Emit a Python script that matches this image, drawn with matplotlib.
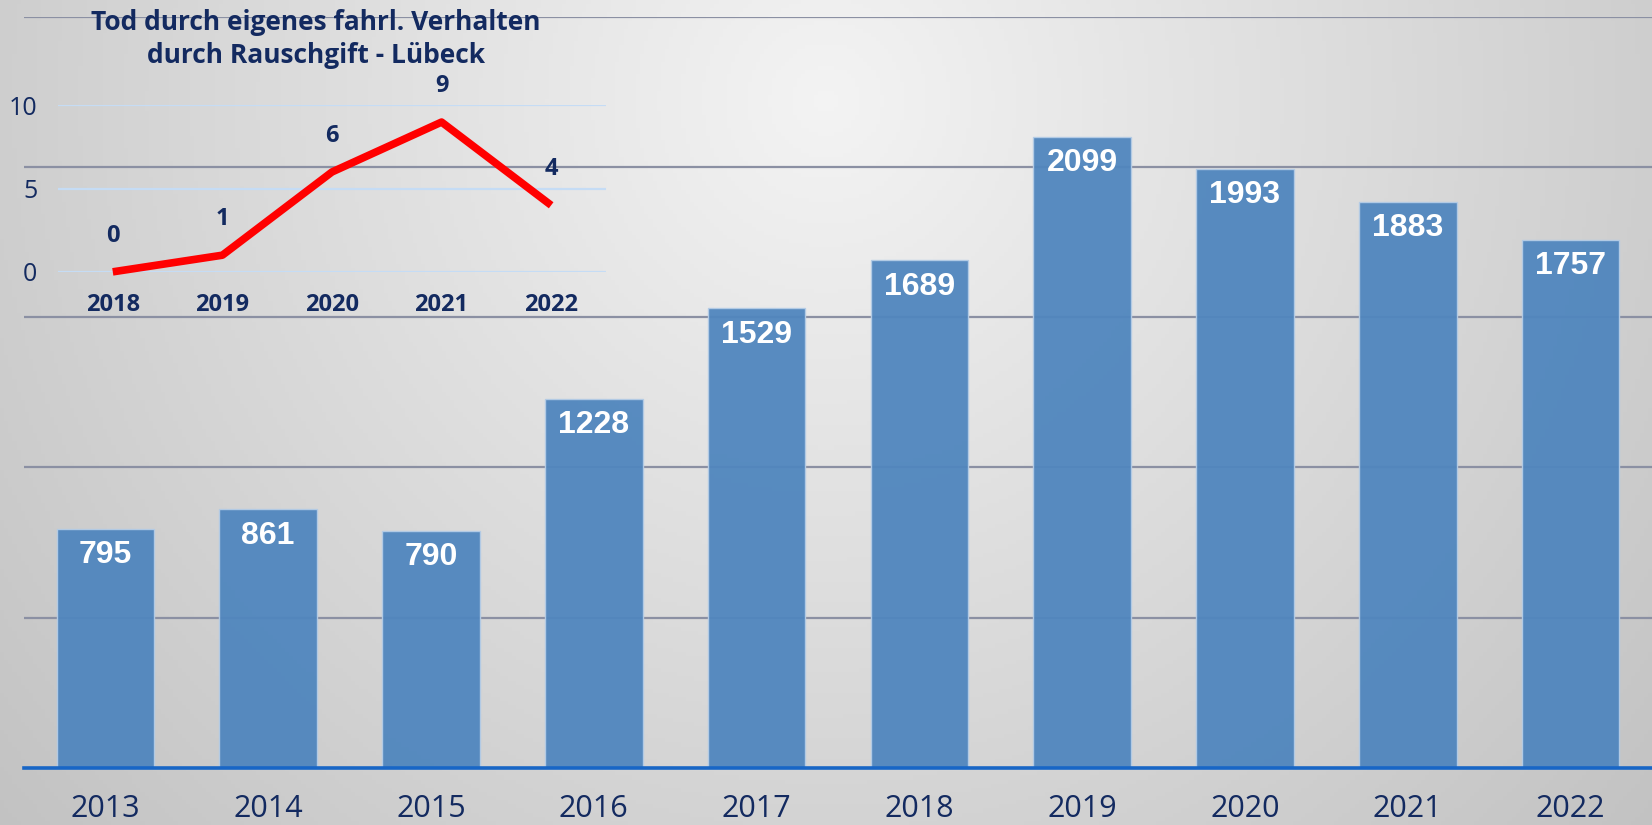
import numpy as np
import matplotlib
matplotlib.use("Agg")
import matplotlib.pyplot as plt

# main chart data
years = ['2013', '2014', '2015', '2016', '2017', '2018', '2019', '2020', '2021', '2022']
cases = [795, 861, 790, 1228, 1529, 1689, 2099, 1993, 1883, 1757]

# inset data
inset_years = ['2018', '2019', '2020', '2021', '2022']
deaths = [0, 1, 6, 9, 4]
inset_title = 'Tod durch eigenes fahrl. Verhalten\ndurch Rauschgift - Lübeck'

navy = '#132a60'
bar_col = '#5086be'

fig = plt.figure(figsize=(16.52, 8.25), dpi=100)

# gray radial background
bg = fig.add_axes([0, 0, 1, 1], zorder=-10)
xx, yy = np.meshgrid(np.linspace(0, 1, 400), np.linspace(0, 1, 200))
d = np.sqrt(((xx - 0.5) / 0.62) ** 2 + ((yy - 0.12) / 1.25) ** 2)
shade = np.clip(0.955 - 0.18 * d, 0.75, 0.96)
bg.imshow(np.dstack([shade, shade, shade]), aspect='auto', extent=[0, 1, 1, 0])
bg.set_axis_off()

# main bars
ax = fig.add_axes([0.0145, 0.069, 0.9855, 0.911])
ax.patch.set_visible(False)
x = np.arange(len(years))
bars = ax.bar(x, cases, width=0.6, color=bar_col, edgecolor='#b4cce6',
              linewidth=1, alpha=0.95, zorder=3)
for xi, v in zip(x, cases):
    ax.annotate(str(v), (xi, v), xytext=(0, -19), textcoords='offset points',
                ha='center', va='center', color='white', fontsize=23,
                fontweight='bold', family='Liberation Sans', zorder=4)
ax.set_xlim(-0.5, len(years) - 0.5)
ax.set_ylim(0, 2500)
ax.set_yticks([500, 1000, 1500, 2000, 2500])
ax.yaxis.grid(True, color='#8b90a3', linewidth=1.6, zorder=1)
ax.set_axisbelow(True)
ax.tick_params(axis='y', left=False, labelleft=False)
ax.set_xticks(x)
ax.set_xticklabels(years, fontsize=22, color=navy, family='Open Sans')
ax.tick_params(axis='x', length=0, pad=19)
for s in ['top', 'left', 'right']:
    ax.spines[s].set_visible(False)
ax.spines['bottom'].set_color('#1866c6')
ax.spines['bottom'].set_linewidth(2.6)
ax.spines['bottom'].set_zorder(5)

# inset line chart
ins = fig.add_axes([0.0351, 0.6705, 0.3317, 0.2017])
ins.patch.set_visible(False)
xi = np.arange(len(inset_years))
ins.plot(xi, deaths, color='#ff0000', linewidth=5.5, solid_capstyle='butt',
         zorder=3, clip_on=False)
for a, v in zip(xi, deaths):
    ins.annotate(str(v), (a, v), xytext=(0, 26), textcoords='offset points',
                 ha='center', va='center', color=navy, fontsize=17,
                 fontweight='bold', family='Open Sans')
ins.set_xlim(-0.5, len(inset_years) - 0.5)
ins.set_ylim(0, 10)
ins.set_yticks([0, 5, 10])
ins.yaxis.grid(True, color='#c5dcf5', linewidth=1.6)
ins.tick_params(axis='y', length=0, pad=15, labelsize=18, labelcolor=navy)
for lab in ins.get_yticklabels():
    lab.set_family('Open Sans')
ins.set_xticks(xi)
ins.set_xticklabels(inset_years, fontsize=17, fontweight='bold', color=navy,
                    family='Open Sans')
ins.tick_params(axis='x', length=0, pad=15)
for s in ins.spines.values():
    s.set_visible(False)

fig.text(316 / 1652, 1 - 39 / 825, inset_title, ha='center', va='center',
         fontsize=19, fontweight='bold', color=navy, family='Open Sans',
         linespacing=1.3)

fig.savefig('out.png', dpi=100)
